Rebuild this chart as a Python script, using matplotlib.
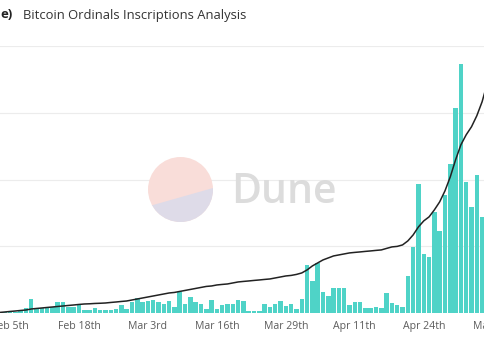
import matplotlib
matplotlib.use("Agg")
from matplotlib import pyplot as plt
import matplotlib.dates as mdates
import matplotlib.patches as mpatches
import pandas as pd
import numpy as np

plt.rcParams['font.family'] = ['Open Sans', 'DejaVu Sans']

# daily inscriptions (thousands), one value per day starting Feb 4th 2023
daily = [0.8, 1.5, 1.5, 3, 7.5, 21, 6, 7.5, 9, 9, 16.5, 16.5, 9, 9, 12, 4.5, 4.5, 7.5, 4.5, 4.5,
         4.5, 6, 12, 6, 16.5, 22.5, 16.5, 18, 19.5, 16.5, 13.5, 18, 9, 31.5, 13.5, 24, 16.5, 13.5, 6, 19.5,
         6, 12, 13.5, 13.5, 19.5, 18, 3, 3, 3, 13.5, 9, 13.5, 18, 10.5, 13.5, 6, 21, 72, 48, 75,
         31.5, 25.5, 37.5, 37.5, 37.5, 12, 16.5, 16.5, 7.5, 7.5, 9, 7.5, 30, 15, 12, 9, 55.5, 99, 193.5, 88.5,
         84, 151.5, 123, 177, 223.5, 307.5, 373.5, 196.5, 159, 207, 144]
start_daily = "2023-02-04"

# cumulative inscriptions (millions), one value per day starting Feb 3rd 2023
cumulative = [0.008, 0.015, 0.023, 0.03, 0.038, 0.045, 0.06, 0.068, 0.075, 0.083, 0.09, 0.098, 0.105, 0.113,
              0.12, 0.128, 0.135, 0.138, 0.143, 0.146, 0.15, 0.158, 0.165, 0.173, 0.18, 0.195, 0.21, 0.225,
              0.24, 0.255, 0.27, 0.285, 0.3, 0.308, 0.323, 0.338, 0.353, 0.368, 0.383, 0.398, 0.405, 0.42,
              0.428, 0.435, 0.45, 0.465, 0.473, 0.48, 0.488, 0.495, 0.503, 0.51, 0.525, 0.54, 0.555, 0.563,
              0.578, 0.6, 0.645, 0.705, 0.75, 0.795, 0.825, 0.855, 0.87, 0.885, 0.9, 0.908, 0.915, 0.923,
              0.93, 0.938, 0.945, 0.968, 0.99, 0.998, 1.02, 1.08, 1.17, 1.29, 1.38, 1.44, 1.545, 1.665,
              1.83, 2.04, 2.295, 2.52, 2.67, 2.79, 2.955, 3.165, 3.45]
start_cum = "2023-02-03"

tick_dates = ["2023-02-05", "2023-02-18", "2023-03-03", "2023-03-16",
              "2023-03-29", "2023-04-11", "2023-04-24", "2023-05-07"]
tick_labels = ["Feb 5th", "Feb 18th", "Mar 3rd", "Mar 16th",
               "Mar 29th", "Apr 11th", "Apr 24th", "May 7th"]

title = "Bitcoin Ordinals Inscriptions Analysis"

d_days = pd.date_range(start_daily, periods=len(daily))
c_days = pd.date_range(start_cum, periods=len(cumulative))

W, H = 485, 360
fig = plt.figure(figsize=(W / 100, H / 100), dpi=100)

# axes is wider than the figure, the picture is a crop
ax = fig.add_axes([-3.26 / W, 47 / H, 517.2 / W, 267 / H])
ax.bar(d_days, daily, width=0.85, color='#4fd3c7', zorder=2)
ax.set_ylim(0, 400)
ax.set_yticks([100, 200, 300, 400])
ax.yaxis.grid(True, color='#ececec', lw=0.8, zorder=0)
ax.tick_params(axis='y', length=0, labelleft=False)
x0 = mdates.date2num(pd.Timestamp("2023-02-05"))
ax.set_xlim(x0 - 2.5, x0 + 95)
ax.set_xticks(mdates.date2num(pd.to_datetime(tick_dates)))
ax.set_xticklabels(tick_labels, fontsize=7.6, color='#5c5c5c')
ax.tick_params(axis='x', length=0, pad=6)
for s in ax.spines.values():
    s.set_visible(False)

ax2 = ax.twinx()
ax2.plot(c_days, cumulative, color='#222222', lw=1.1, zorder=3)
ax2.set_ylim(0, 4)
ax2.set_yticks([])
for s in ax2.spines.values():
    s.set_visible(False)
ax2.set_xlim(x0 - 2.5, x0 + 95)

# title (cut at the left like the reference)
fig.text(0, 1 - 15 / H, "e)", fontsize=9.4, color='#222222', va='center', ha='left', fontweight='bold')
fig.text(23 / W, 1 - 15 / H, title, fontsize=9.4, color='#333333', va='center', ha='left')

# watermark
ov = fig.add_axes([0, 0, 1, 1])
ov.set_xlim(0, W)
ov.set_ylim(H, 0)
ov.axis('off')
circ = mpatches.Circle((180.5, 189.5), 32.5, color='#f9ddd9', lw=0)
ov.add_patch(circ)
low = mpatches.Polygon([(140, 208.7), (225, 184.6), (225, 235), (140, 235)], color='#dedbe8', lw=0)
ov.add_patch(low)
low.set_clip_path(circ)
ov.text(231, 203, "Dune", fontsize=29.5, color='#dcdcdc', ha='left', va='baseline', fontweight='semibold')

fig.savefig("out.png", dpi=100)
